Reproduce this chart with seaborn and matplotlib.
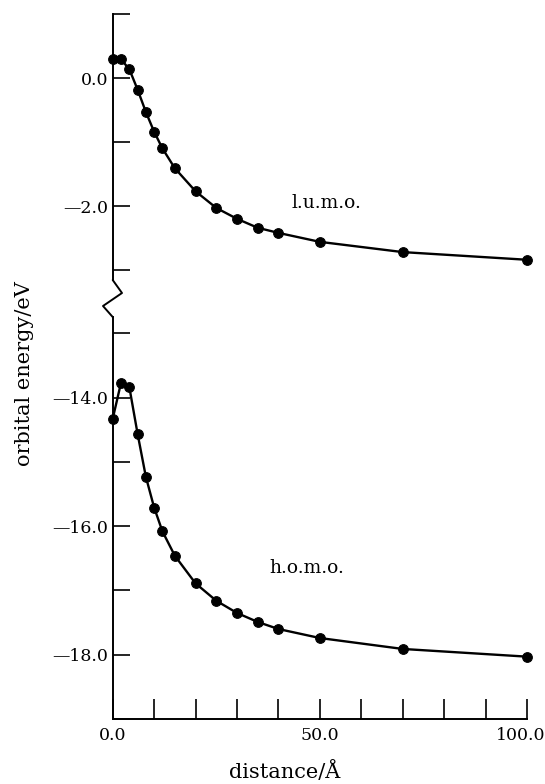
import matplotlib
matplotlib.use("Agg")
import matplotlib.pyplot as plt
from matplotlib.lines import Line2D
from matplotlib.ticker import MultipleLocator, FuncFormatter, FixedLocator
from matplotlib.transforms import ScaledTranslation
import seaborn as sns
import pandas as pd

# ---- data ----
distance = [0, 2, 4, 6, 8, 10, 12, 15, 20, 25, 30, 35, 40, 50, 70, 100]
lumo = [0.29, 0.29, 0.14, -0.18, -0.53, -0.84, -1.10, -1.41, -1.77, -2.03,
        -2.20, -2.34, -2.42, -2.56, -2.72, -2.84]
homo = [-14.33, -13.77, -13.83, -14.56, -15.23, -15.71, -16.08, -16.46, -16.89,
        -17.16, -17.35, -17.49, -17.60, -17.74, -17.91, -18.03]
x_major = [0, 50, 100]
x_minor = [10, 20, 30, 40, 60, 70, 80, 90]

sns.set_style("ticks")
plt.rcParams['font.family'] = ['DejaVu Serif']
plt.rcParams['text.color'] = 'black'
plt.rcParams['axes.labelcolor'] = 'black'
plt.rcParams['xtick.color'] = 'black'
plt.rcParams['ytick.color'] = 'black'
plt.rcParams['axes.edgecolor'] = 'black'

W, H = 545, 784
fig = plt.figure(figsize=(W / 100, H / 100), dpi=100)

def fx(px):
    return px / W

def fy(py):
    return 1 - py / H

left = fx(112.7)
width = fx(527) - left
ax_top = fig.add_axes([left, fy(280), width, fy(14) - fy(280)])
ax_bot = fig.add_axes([left, fy(719), width, fy(317) - fy(719)])

df_l = pd.DataFrame({"distance": distance, "energy": lumo})
df_h = pd.DataFrame({"distance": distance, "energy": homo})

for ax, df in ((ax_top, df_l), (ax_bot, df_h)):
    sns.lineplot(data=df, x="distance", y="energy", ax=ax, color="black",
                 marker="o", markersize=7, markeredgecolor="black",
                 linewidth=1.7, estimator=None, clip_on=False, zorder=3)
    ax.set_xlim(0, 100)
    ax.set_xlabel("")
    ax.set_ylabel("")
    for s in ("top", "right"):
        ax.spines[s].set_visible(False)
    ax.spines["left"].set_linewidth(1.4)
    ax.spines["bottom"].set_linewidth(1.4)
    ax.yaxis.set_major_locator(MultipleLocator(2))
    ax.yaxis.set_minor_locator(MultipleLocator(1))
    ax.yaxis.set_major_formatter(FuncFormatter(
        lambda v, p: ("\u2014%.1f" % abs(v)) if v < -1e-9 else "%.1f" % abs(v)))
    ax.tick_params(axis="y", which="both", direction="in", length=12,
                   width=1.2, labelsize=12.5, pad=3, color="black",
                   labelcolor="black")

ax_top.set_ylim(-3.156, 1.0)
ax_bot.set_ylim(-19.0, -12.745)

ax_top.spines["bottom"].set_visible(False)
ax_top.tick_params(axis="x", which="both", bottom=False, labelbottom=False)

ax_bot.xaxis.set_major_locator(FixedLocator(x_major))
ax_bot.xaxis.set_minor_locator(FixedLocator(x_minor))
ax_bot.xaxis.set_major_formatter(FuncFormatter(lambda v, p: "%.1f" % v))
ax_bot.tick_params(axis="x", which="both", direction="in", length=14.4,
                   width=1.2, labelsize=12.5, pad=6, color="black",
                   labelcolor="black")

# nudge the last x tick label so it stays inside the figure
fig.canvas.draw()
last = ax_bot.xaxis.get_major_ticks()[-1].label1
last.set_transform(last.get_transform() +
                   ScaledTranslation(-6 / 100, 0, fig.dpi_scale_trans))

# axis-break zigzag on the left spine
zx = [112.7, 122, 103, 112.7]
zy = [280, 293, 306, 317]
fig.add_artist(Line2D([fx(v) for v in zx], [fy(v) for v in zy],
                      transform=fig.transFigure, color="black", linewidth=1.4))

# labels
ax_top.text(51.7, -1.95, "l.u.m.o.", ha="center", va="center", fontsize=13.5,
            color="black")
ax_bot.text(46.9, -16.65, "h.o.m.o.", ha="center", va="center", fontsize=13.5,
            color="black")

fig.text(fx(25), fy(374), "orbital energy/eV", rotation=90,
         ha="center", va="center", fontsize=15, color="black")
fig.text(fx(285), fy(771), "distance/\u00c5", ha="center", va="center",
         fontsize=15, color="black")

fig.savefig("out.png", dpi=100, facecolor="white")
